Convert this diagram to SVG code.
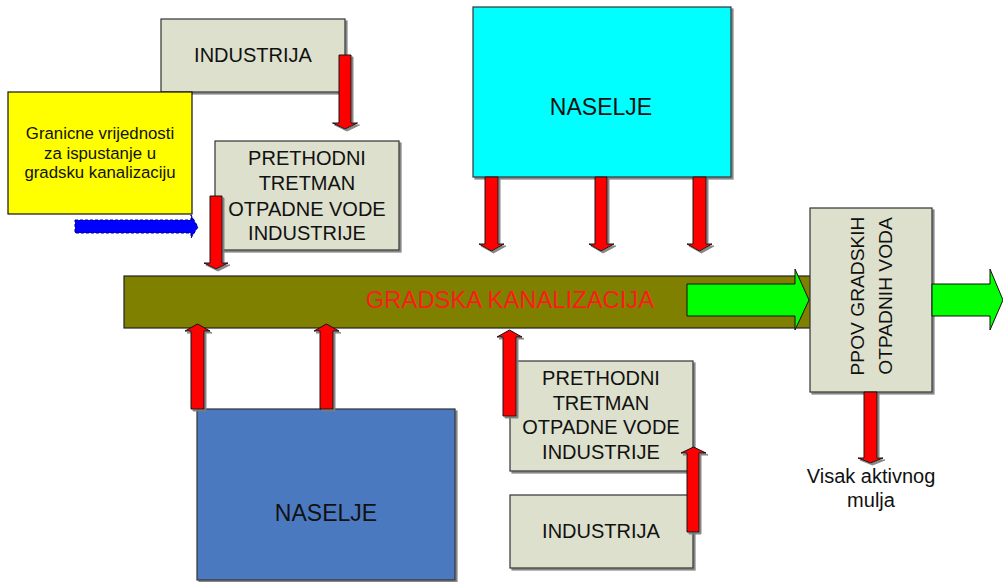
<svg xmlns="http://www.w3.org/2000/svg" width="1003" height="582" viewBox="0 0 1003 582">
  <defs>
    <filter id="shadow" x="-10%" y="-10%" width="130%" height="130%">
      <feDropShadow dx="2" dy="2" stdDeviation="0.7" flood-color="#7a7a7a" flood-opacity="0.9"/>
    </filter>
  </defs>
  <style>
    .box { stroke: #333333; stroke-width: 1.2; filter: url(#shadow); }
    .gray { fill: #DDE0CC; }
    .lbl { font-family: "Liberation Sans", Arial, sans-serif; fill: #111111; text-anchor: middle; }
    .red { fill: #FF0000; stroke: #111111; stroke-width: 1; filter: url(#shadow); }
    .green { fill: #00FF00; stroke: #111111; stroke-width: 1; }
  </style>
  <rect width="1003" height="582" fill="#ffffff"/>

  <!-- main sewer bar -->
  <g id="kanalizacija">
    <rect x="124" y="276" width="688" height="52" fill="#808000" stroke="#222222" stroke-width="1.2"/>
    <text class="lbl" x="510" y="308" font-size="23.8" style="fill:#FF1A1A">GRADSKA KANALIZACIJA</text>
  </g>

  <g id="industrija-top">
    <rect class="box gray" x="161" y="19" width="184" height="73"/>
    <text class="lbl" x="253" y="62" font-size="20">INDUSTRIJA</text>
  </g>

  <g id="granicne">
    <rect x="8" y="92" width="184" height="122" fill="#FFFF00" stroke="#111111" stroke-width="1.2"/>
    <text class="lbl" x="100" y="139" font-size="16.8">Granicne vrijednosti</text>
    <text class="lbl" x="100" y="159" font-size="16.8">za ispustanje u</text>
    <text class="lbl" x="100" y="178" font-size="16.8">gradsku kanalizaciju</text>
  </g>

  <g id="prethodni-top">
    <rect class="box gray" x="215" y="141" width="184" height="109"/>
    <text class="lbl" x="307" y="165" font-size="20">PRETHODNI</text>
    <text class="lbl" x="307" y="190" font-size="20">TRETMAN</text>
    <text class="lbl" x="307" y="216" font-size="20">OTPADNE VODE</text>
    <text class="lbl" x="307" y="240" font-size="20">INDUSTRIJE</text>
  </g>

  <g id="naselje-top">
    <rect class="box" x="473" y="7" width="258" height="170" fill="#00FFFF"/>
    <text class="lbl" x="601" y="115" font-size="23">NASELJE</text>
  </g>

  <g id="ppov">
    <rect class="box gray" x="810" y="208" width="122" height="184"/>
    <text class="lbl" font-size="19.2" transform="translate(864 296) rotate(-90)">PPOV GRADSKIH</text>
    <text class="lbl" font-size="19.2" transform="translate(892 296) rotate(-90)">OTPADNIH VODA</text>
  </g>

  <g id="naselje-bottom">
    <rect class="box" x="197" y="409" width="258" height="171" fill="#4B79C0"/>
    <text class="lbl" x="326" y="521" font-size="23">NASELJE</text>
  </g>

  <g id="prethodni-bottom">
    <rect class="box gray" x="510" y="361" width="183" height="110"/>
    <text class="lbl" x="601" y="385" font-size="20">PRETHODNI</text>
    <text class="lbl" x="601" y="410" font-size="20">TRETMAN</text>
    <text class="lbl" x="601" y="434" font-size="20">OTPADNE VODE</text>
    <text class="lbl" x="601" y="459" font-size="20">INDUSTRIJE</text>
  </g>

  <g id="industrija-bottom">
    <rect class="box gray" x="510" y="495" width="183" height="73"/>
    <text class="lbl" x="601" y="538" font-size="20">INDUSTRIJA</text>
  </g>

  <g id="visak">
    <text class="lbl" x="871" y="483" font-size="20">Visak aktivnog</text>
    <text class="lbl" x="871" y="507" font-size="20">mulja</text>
  </g>

  <!-- flows -->
  <g id="connectors">
    <!-- limit values -> pre-treatment -->
    <path d="M75,220 H191 V215 L198,227 L191,238 V233 H75 Z" fill="#0000FF" stroke="#00007A" stroke-width="1" stroke-dasharray="3 2"/>
    <!-- downward red arrows -->
    <path class="red" d="M339,55 H351 V123 H357.5 L345,129 L332.5,123 H339 Z"/>
    <path class="red" d="M210,196 H222 V263 H228 L216,269 L204,263 H210 Z"/>
    <path class="red" d="M485,177 H498 V244 H504 L491.5,251 L479,244 H485 Z"/>
    <path class="red" d="M595,177 H607 V244 H614 L601,251 L589,244 H595 Z"/>
    <path class="red" d="M693,177 H706 V244 H712 L699.5,251 L687,244 H693 Z"/>
    <path class="red" d="M864,392 H877 V458 H883 L870.5,463 L858,458 H864 Z"/>
    <!-- upward red arrows -->
    <path class="red" d="M191,409 V331 H185 L197.5,324 L210,331 H204 V409 Z"/>
    <path class="red" d="M320,409 V331 H314 L326.5,324 L339,331 H333 V409 Z"/>
    <path class="red" d="M503,416 V337 H497 L509.5,330 L522,337 H516 V416 Z"/>
    <path class="red" d="M687,532 V453 H681 L693.5,447 L706,453 H699 V532 Z"/>
    <!-- green flow arrows -->
    <path class="green" d="M687,284 H795 V269 L809,300 L795,330 V316 H687 Z"/>
    <path class="green" d="M932,284 H990 V269 L1003,300 L990,330 V316 H932 Z"/>
  </g>
</svg>
